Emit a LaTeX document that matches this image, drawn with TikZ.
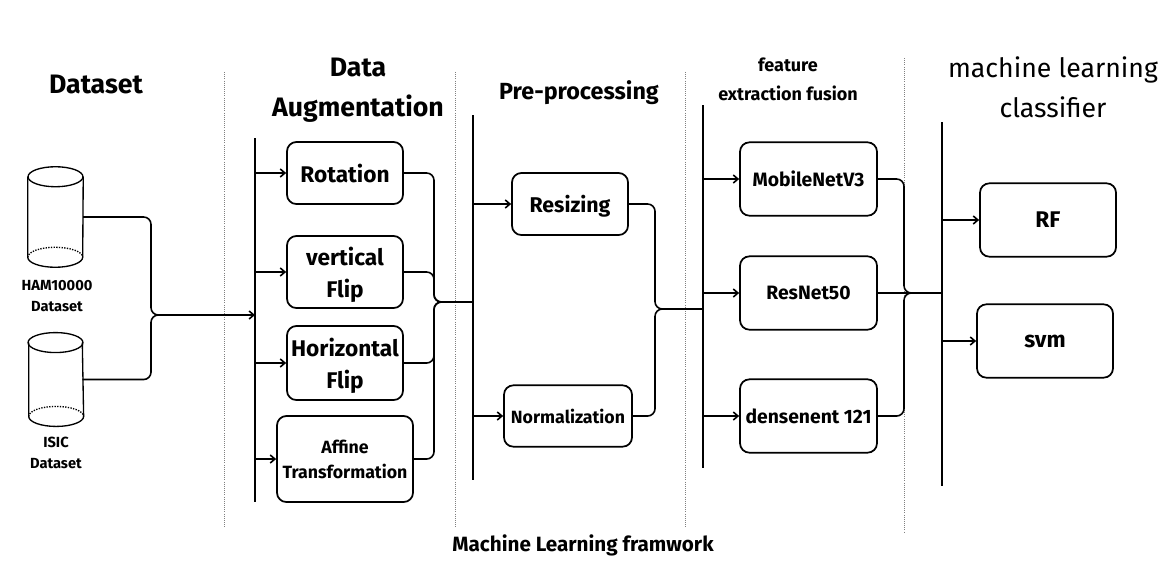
\documentclass[tikz,border=0pt]{standalone}
\usepackage{fontspec}
\setmainfont{Fira Sans}
\usetikzlibrary{calc, arrows.meta}

\newcommand{\drawdrum}[1]{
    \draw [drumline] ($(#1.north west)+(0,-7.5pt)$) -- ($(#1.south west)+(0,7.5pt)$)
        arc [start angle=180, end angle=360, x radius=20.6pt, y radius=7.5pt]
        -- ($(#1.north east)+(0,-7.5pt)$);
    \draw [drumline] ($(#1.north)+(0,-7.5pt)$) ellipse [x radius=20.6pt, y radius=7.5pt];
    \draw [drumline, densely dotted] ($(#1.south west)+(0,7.5pt)$)
        arc [start angle=180, end angle=0, x radius=20.6pt, y radius=7.5pt];
}

\begin{document}
\begin{tikzpicture}[
    x=0.75pt, y=-0.75pt,
    every node/.style={inner sep=0pt, align=center},
    box/.style     ={draw, rounded corners=7pt, line width=1.3pt, text depth=0pt, font=\fontsize{17}{24}\selectfont\bfseries},
    smallbox/.style={box, font=\fontsize{14.5}{20}\selectfont\bfseries},
    tightbox/.style={box, font=\fontsize{13.3}{19}\selectfont\bfseries},
    drum/.style    ={minimum width=41.2pt, minimum height=75pt},
    drumline/.style={line width=1pt},
    dblabel/.style ={font=\fontsize{11}{16}\selectfont\bfseries},
    head/.style    ={font=\fontsize{20}{30}\selectfont\bfseries},
    lighthead/.style={font=\fontsize{20}{30}\selectfont},
    bar/.style     ={line width=1.3pt},
    link/.style    ={line width=1.2pt, rounded corners=5.5pt},
    feed/.style    ={line width=1.2pt, -{Straight Barb[length=3.5pt, width=6pt]}},
    divider/.style ={densely dotted, gray, line width=0.6pt}
]
\useasboundingbox (0,0) rectangle (1175,569);

% headings
\node [head] (hdata) at (96,84) {Dataset};
\node [head] (haug) at (358,90) {Data\\Augmentation};
\node [head, font=\fontsize{17.5}{24}\selectfont\bfseries] (hpre) at (579,93) {Pre-processing};
\node [head, font=\fontsize{13.5}{22}\selectfont\bfseries] (hfeat) at (788,79) {feature\\extraction fusion};
\node [lighthead] (hclf) at (1053,87) {machine learning\\classifier};
\node [head, font=\fontsize{15.5}{20}\selectfont\bfseries] (hframe) at (583,545) {Machine Learning framwork};

% dividers
\draw [divider] (224,72) -- (224,527);
\draw [divider] (455,72) -- (455,527);
\draw [divider] (685,72) -- (685,527);
\draw [divider] (904,58) -- (904,533);

% datasets
\node [drum] (ham) at (55.5,217) {};
\node [drum, minimum width=39.8pt, minimum height=70pt] (isic) at (55.5,379.5) {};
\drawdrum{ham}
\drawdrum{isic}
\node [dblabel] (hamlabel) at (57,296) {HAM10000\\Dataset};
\node [dblabel] (isiclabel) at (56,453) {ISIC\\Dataset};

% augmentation
\node [box, minimum width=87pt, minimum height=46.5pt] (rot) at (345,173) {Rotation};
\node [box, minimum width=87pt, minimum height=54pt] (vflip) at (345,272) {vertical\\Flip};
\node [box, minimum width=87pt, minimum height=55.5pt] (hflip) at (345,363) {Horizontal\\Flip};
\node [tightbox, minimum width=102pt, minimum height=64.5pt] (affine) at (345,459) {Affine\\Transformation};

% pre-processing
\node [box, font=\fontsize{16}{24}\selectfont\bfseries, minimum width=87pt, minimum height=46.5pt] (resize) at (570,204) {Resizing};
\node [tightbox, minimum width=96pt, minimum height=46pt] (norm) at (568,416) {Normalization};

% feature extraction
\node [smallbox, minimum width=102.7pt, minimum height=55pt] (mobile) at (808.5,179) {MobileNetV3};
\node [smallbox, minimum width=102.7pt, minimum height=55pt] (resnet) at (808.5,293) {ResNet50};
\node [smallbox, minimum width=102.7pt, minimum height=55pt] (dense) at (808.5,416) {densenent 121};

% classifiers
\node [box, minimum width=102pt, minimum height=55pt] (rf) at (1048,220) {RF};
\node [box, minimum width=102pt, minimum height=55pt] (svm) at (1045,341) {svm};

% bars
\coordinate (bara1) at (255,138);
\coordinate (bara2) at (255,502);
\coordinate (barb1) at (473,115);
\coordinate (barb2) at (473,480);
\coordinate (barc1) at (703,105);
\coordinate (barc2) at (703,468);
\coordinate (bard1) at (942,122);
\coordinate (bard2) at (942,486);
\draw [bar] (bara1) -- (bara2);
\draw [bar] (barb1) -- (barb2);
\draw [bar] (barc1) -- (barc2);
\draw [bar] (bard1) -- (bard2);

% junctions
\coordinate (busa) at (151,315);
\coordinate (joina) at (158,315);
\coordinate (busb) at (434,302);
\coordinate (joinb) at (441,302);
\coordinate (busc) at (655,309);
\coordinate (joinc) at (662,309);
\coordinate (busd) at (904,293);
\coordinate (joind) at (911,293);

\draw [link] (ham.east) -| (busa) -- (joina);
\draw [link] (isic.east) -| (busa) -- (joina);
\draw [feed] (joina) -- (bara1 |- joina);

\draw [link] (rot.east) -| (busb) -- (joinb);
\draw [link] (vflip.east) -| (busb) -- (joinb);
\draw [link] (hflip.east) -| (busb) -- (joinb);
\draw [link] (affine.east) -| (busb) -- (joinb);
\draw [line width=1.6pt] (joinb) -- (barb1 |- joinb);

\draw [link] (resize.east) -| (busc) -- (joinc);
\draw [link] (norm.east) -| (busc) -- (joinc);
\draw [line width=1.6pt] (joinc) -- (barc1 |- joinc);

\draw [link] (mobile.east) -| (busd) -- (joind);
\draw [link] (dense.east) -| (busd) -- (joind);
\draw [line width=1.2pt] (resnet.east) -- (joind);
\draw [line width=1.6pt] (joind) -- (bard1 |- joind);

% feeds
\draw [feed] (bara1 |- rot.west) -- (rot.west);
\draw [feed] (bara1 |- vflip.west) -- (vflip.west);
\draw [feed] (bara1 |- hflip.west) -- (hflip.west);
\draw [feed] (bara1 |- affine.west) -- (affine.west);
\draw [feed] (barb1 |- resize.west) -- (resize.west);
\draw [feed] (barb1 |- norm.west) -- (norm.west);
\draw [feed] (barc1 |- mobile.west) -- (mobile.west);
\draw [feed] (barc1 |- resnet.west) -- (resnet.west);
\draw [feed] (barc1 |- dense.west) -- (dense.west);
\draw [feed] (bard1 |- rf.west) -- (rf.west);
\draw [feed] (bard1 |- svm.west) -- (svm.west);
\end{tikzpicture}
\end{document}
